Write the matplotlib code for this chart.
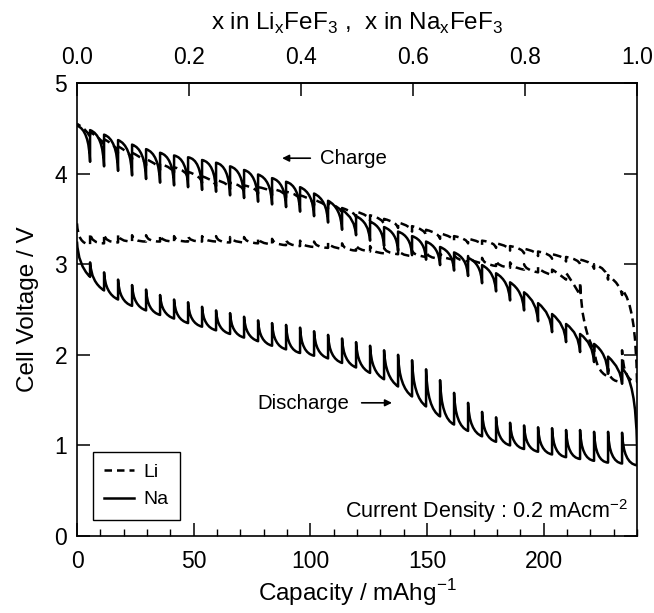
import matplotlib
matplotlib.use("Agg")
import matplotlib.pyplot as plt
from matplotlib.path import Path
from matplotlib.patches import PathPatch
from matplotlib.lines import Line2D
from matplotlib.ticker import MultipleLocator

plt.rcParams['font.family'] = ['Liberation Sans', 'DejaVu Sans']

# ---- data ----
# capacity positions (mAh/g) of the GITT pulse ends
capacity = [0, 5.6, 11.6, 17.6, 23.6, 29.6, 35.6, 41.6, 47.6, 53.6, 59.6,
            65.6, 71.6, 77.6, 83.6, 89.6, 95.6, 101.6, 107.6, 113.6, 119.6,
            125.6, 131.6, 137.6, 143.6, 149.6, 155.6, 161.6, 167.6, 173.6, 179.6,
            185.6, 191.6, 197.6, 203.6, 209.6, 215.6, 221.6, 227.6, 233.6, 240]

# Na discharge: voltage at end of pulse (closed circuit) and after relaxation
na_dis_ccv = [3.25, 2.86, 2.71, 2.61, 2.54, 2.49, 2.44, 2.40, 2.35, 2.31, 2.27,
              2.23, 2.19, 2.15, 2.10, 2.06, 2.02, 1.99, 1.96, 1.91, 1.86,
              1.80, 1.73, 1.65, 1.54, 1.43, 1.32, 1.23, 1.16, 1.10, 1.04,
              1.00, 0.96, 0.93, 0.90, 0.87, 0.85, 0.83, 0.81, 0.80, 0.78]
na_dis_ocv = [3.25, 3.02, 2.91, 2.83, 2.77, 2.72, 2.66, 2.61, 2.58, 2.53, 2.49,
              2.46, 2.42, 2.38, 2.35, 2.33, 2.30, 2.26, 2.22, 2.18, 2.14,
              2.10, 2.05, 2.00, 1.94, 1.84, 1.72, 1.58, 1.47, 1.37, 1.31,
              1.25, 1.22, 1.20, 1.19, 1.17, 1.17, 1.15, 1.15, 1.14, 1.00]

# Na charge (runs from 240 back to 0)
na_chg_ccv = [4.53, 4.48, 4.43, 4.37, 4.32, 4.27, 4.23, 4.20, 4.18, 4.15, 4.12,
              4.08, 4.04, 3.99, 3.95, 3.91, 3.85, 3.78, 3.70, 3.60, 3.53,
              3.47, 3.41, 3.36, 3.31, 3.25, 3.19, 3.13, 3.07, 2.99, 2.90,
              2.80, 2.69, 2.57, 2.45, 2.34, 2.23, 2.12, 1.98, 1.85, 1.00]
na_chg_ocv = [4.53, 4.13, 4.08, 4.03, 3.98, 3.94, 3.90, 3.87, 3.85, 3.82, 3.80,
              3.76, 3.73, 3.69, 3.66, 3.63, 3.58, 3.53, 3.46, 3.38, 3.32,
              3.26, 3.20, 3.15, 3.10, 3.05, 2.99, 2.93, 2.87, 2.79, 2.70,
              2.60, 2.49, 2.37, 2.25, 2.14, 2.03, 1.92, 1.79, 1.68, 1.00]

# Li discharge
li_dis_ccv = [3.45, 3.22, 3.23, 3.24, 3.25, 3.25, 3.25, 3.25, 3.25, 3.25, 3.25,
              3.24, 3.24, 3.23, 3.22, 3.21, 3.20, 3.19, 3.18, 3.17, 3.15,
              3.14, 3.12, 3.11, 3.09, 3.08, 3.06, 3.05, 3.03, 3.01, 2.98,
              2.96, 2.94, 2.91, 2.88, 2.83, 2.66, 2.05, 1.76, 1.70, 1.70]
li_dis_ocv = [3.45, 3.34, 3.33, 3.33, 3.32, 3.32, 3.32, 3.31, 3.31, 3.31, 3.31,
              3.30, 3.30, 3.29, 3.28, 3.27, 3.26, 3.25, 3.24, 3.23, 3.21,
              3.20, 3.18, 3.17, 3.15, 3.14, 3.12, 3.11, 3.09, 3.07, 3.04,
              3.02, 3.00, 2.97, 2.94, 2.90, 2.80, 2.10, 1.85, 2.05, 1.70]

# Li charge (runs from 240 back to 0)
li_chg_ccv = [4.55, 4.46, 4.38, 4.30, 4.23, 4.16, 4.11, 4.07, 4.02, 3.97, 3.93,
              3.90, 3.87, 3.85, 3.83, 3.80, 3.76, 3.71, 3.67, 3.62, 3.58,
              3.54, 3.50, 3.46, 3.42, 3.38, 3.34, 3.31, 3.28, 3.26, 3.23,
              3.20, 3.17, 3.14, 3.11, 3.08, 3.05, 3.00, 2.88, 2.72, 1.70]
li_chg_ocv = [4.55, 4.39, 4.31, 4.23, 4.16, 4.09, 4.04, 4.00, 3.95, 3.90, 3.86,
              3.83, 3.80, 3.78, 3.76, 3.73, 3.70, 3.65, 3.61, 3.56, 3.52,
              3.48, 3.44, 3.40, 3.36, 3.32, 3.28, 3.26, 3.23, 3.21, 3.18,
              3.15, 3.12, 3.09, 3.06, 3.03, 3.00, 2.95, 2.83, 2.66, 1.70]

top_ticks = [0.0, 0.2, 0.4, 0.6, 0.8, 1.0]
top_labels = ["0.0", "0.2", "0.4", "0.6", "0.8", "1.0"]


def gitt_path(cap, ccv, ocv, order):
    """Pulse = curved transient from relaxed point to end-of-pulse point,
    then vertical relaxation."""
    verts = [(cap[order[0]], ocv[order[0]])]
    codes = [Path.MOVETO]
    for j in range(len(order) - 1):
        i, k = order[j], order[j + 1]
        h = cap[k] - cap[i]
        if j + 2 < len(order):
            m = order[j + 2]
            s = (ccv[m] - ccv[k]) / (cap[m] - cap[k])
        else:
            s = (ccv[k] - ccv[i]) / h
        a = 0.08
        py = ccv[k] - s * (1 - a) * h
        lo, hi = min(ocv[i], ccv[k]), max(ocv[i], ccv[k])
        py = min(max(py, lo), hi)
        verts += [(cap[i] + a * h, py), (cap[k], ccv[k])]
        codes += [Path.CURVE3, Path.CURVE3]
        if ocv[k] != ccv[k]:
            verts.append((cap[k], ocv[k]))
            codes.append(Path.LINETO)
    return Path(verts, codes)


fig = plt.figure(figsize=(6.54, 6.13), dpi=100)
ax = fig.add_axes([77 / 654, 1 - 536 / 613, 560 / 654, 453 / 613])

n = len(capacity)
fwd = list(range(n))
rev = list(range(n - 1, -1, -1))
lw = 1.8
dash = (0, (3.5, 2.0))
series = [
    (na_dis_ccv, na_dis_ocv, fwd, '-'),
    (na_chg_ccv, na_chg_ocv, rev, '-'),
    (li_dis_ccv, li_dis_ocv, fwd, dash),
    (li_chg_ccv, li_chg_ocv, rev, dash),
]
for ccv, ocv, order, ls in series:
    p = gitt_path(capacity, ccv, ocv, order)
    ax.add_patch(PathPatch(p, fill=False, edgecolor='black', lw=lw,
                           linestyle=ls, capstyle='butt', joinstyle='round'))

ax.set_xlim(0, 240)
ax.set_ylim(0, 5)
ax.xaxis.set_major_locator(MultipleLocator(50))
ax.xaxis.set_minor_locator(MultipleLocator(10))
ax.yaxis.set_major_locator(MultipleLocator(1))
ax.tick_params(axis='both', which='major', direction='in', length=9.5, width=1.1,
               labelsize=16.5)
ax.tick_params(axis='x', which='major', pad=10)
ax.tick_params(axis='y', which='major', pad=7, right=True)
ax.tick_params(axis='x', which='minor', direction='in', length=5, width=1.0, top=False)
ax.tick_params(axis='x', top=False)
for sp in ax.spines.values():
    sp.set_linewidth(1.2)

sec = ax.secondary_xaxis('top', functions=(lambda c: c / 240.0, lambda x: x * 240.0))
sec.set_xticks(top_ticks)
sec.set_xticklabels(top_labels)
sec.tick_params(direction='in', length=9.5, width=1.1, labelsize=16.5, pad=10)
sec.spines['top'].set_linewidth(1.2)
sec.set_xlabel(r"x in Li$_\mathregular{x}$FeF$_\mathregular{3}$ ,  x in Na$_\mathregular{x}$FeF$_\mathregular{3}$",
               fontsize=17.5, labelpad=12)

ax.set_xlabel(r"Capacity / mAhg$^\mathregular{-1}$", fontsize=17.5, labelpad=3)
ax.set_ylabel("Cell Voltage / V", fontsize=17.5, labelpad=11)

# annotations
ax.annotate('', xy=(87.9, 4.17), xytext=(100, 4.17),
            arrowprops=dict(arrowstyle='-|>', color='black', lw=1.2,
                            mutation_scale=10, shrinkA=0, shrinkB=0))
ax.text(104, 4.17, "Charge", fontsize=14.7, va='center', ha='left')
ax.text(77.2, 1.46, "Discharge", fontsize=14.7, va='center', ha='left')
ax.annotate('', xy=(135, 1.47), xytext=(122, 1.47),
            arrowprops=dict(arrowstyle='-|>', color='black', lw=1.2,
                            mutation_scale=10, shrinkA=0, shrinkB=0))
ax.text(236, 0.2, r"Current Density : 0.2 mAcm$^\mathregular{-2}$", fontsize=15.5,
        ha='right', va='baseline')

handles = [Line2D([], [], color='black', lw=lw, linestyle=(0, (3.0, 2.0))),
           Line2D([], [], color='black', lw=lw, linestyle='-')]
leg = ax.legend(handles, ["Li", "Na"], loc='lower left', bbox_to_anchor=(0.028, 0.035),
                borderaxespad=0, fancybox=False, edgecolor='black', framealpha=1,
                fontsize=14, handlelength=1.5, handletextpad=0.5,
                borderpad=0.6, labelspacing=0.5)
leg.get_frame().set_linewidth(1.0)

fig.savefig("out.png", dpi=100)
